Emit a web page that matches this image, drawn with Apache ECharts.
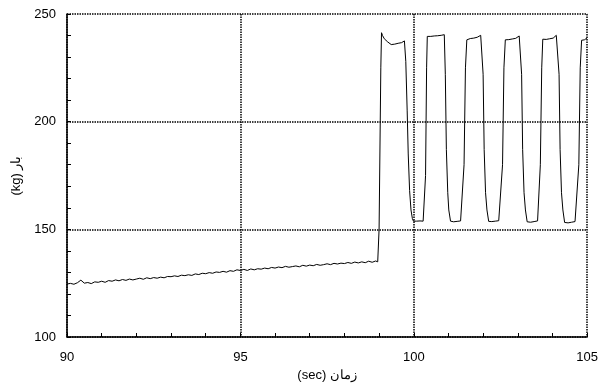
<!DOCTYPE html>
<html>
<head>
<meta charset="utf-8">
<script src="https://cdn.jsdelivr.net/npm/echarts@6/dist/echarts.min.js"></script>
<style>html,body{margin:0;padding:0;background:#fff}#c{width:601px;height:387px}</style>
</head>
<body>
<div id="c"></div>
<script>
// x-axis / y-axis ranges and tick labels
var xTicks = [90, 95, 100, 105];
var yTicks = [100, 150, 200, 250];
var xMinorStep = 1;
var yMinorStep = 10;
var xTitle = "(sec) زمان";
var yTitle = "(kg) بار";

// ramp section (time, load)
var rampT = [90.0,90.1,90.2,90.3,90.4,90.5,90.6,90.7,90.8,90.9,91.0,91.1,91.2,91.3,91.4,91.5,91.6,91.7,91.8,91.9,92.0,92.1,92.2,92.3,92.4,92.5,92.6,92.7,92.8,92.9,93.0,93.1,93.2,93.3,93.4,93.5,93.6,93.7,93.8,93.9,94.0,94.1,94.2,94.3,94.4,94.5,94.6,94.7,94.8,94.9,95.0,95.1,95.2,95.3,95.4,95.5,95.6,95.7,95.8,95.9,96.0,96.1,96.2,96.3,96.4,96.5,96.6,96.7,96.8,96.9,97.0,97.1,97.2,97.3,97.4,97.5,97.6,97.7,97.8,97.9,98.0,98.1,98.2,98.3,98.4,98.5,98.6,98.7,98.8,98.9,98.96];
var rampV = [124.6,124.9,124.5,125.2,126.4,125.0,125.3,124.8,125.6,125.4,125.9,125.4,126.2,125.9,126.5,126.1,126.7,126.3,126.9,126.5,126.9,127.3,126.8,127.5,127.1,127.6,127.3,127.8,127.5,128.1,128.0,128.4,128.1,128.7,128.5,128.9,128.6,129.3,129.0,129.6,129.4,129.9,129.6,130.2,130.0,130.5,130.1,130.8,130.5,131.2,130.9,131.4,130.9,131.6,131.2,131.7,131.5,132.0,131.7,132.3,132.0,132.5,132.2,132.8,132.4,132.7,133.0,132.6,133.3,132.9,133.4,133.1,133.7,133.3,133.6,134.0,133.6,134.2,133.9,134.3,134.1,134.6,134.2,134.8,134.4,134.9,134.5,135.2,134.7,135.3,134.9];

// oscillating section (time, load)
var pulseT = [99.0,99.05,99.07,99.1,99.15,99.2,99.25,99.3,99.35,99.4,99.45,99.5,99.55,99.6,99.65,99.7,99.73,
  99.77,99.81,99.84,99.88,99.92,99.96,99.99,
  100.03,100.08,100.13,100.18,100.22,100.27,100.31,
  100.34,100.37,100.39,
  100.44,100.49,100.54,100.59,100.64,100.69,100.74,100.79,100.84,100.88,
  100.91,100.94,100.98,101.01,101.06,
  101.1,101.15,101.2,101.25,101.3,101.35,101.39,
  101.45,101.49,101.53,
  101.58,101.63,101.68,101.73,101.78,101.83,101.88,101.93,101.96,
  102.0,102.03,102.07,102.11,102.16,
  102.2,102.25,102.3,102.35,102.4,102.45,102.5,
  102.56,102.6,102.64,
  102.69,102.74,102.79,102.84,102.89,102.94,102.99,103.04,103.07,
  103.11,103.14,103.18,103.22,103.27,
  103.32,103.37,103.42,103.47,103.52,103.57,103.61,
  103.65,103.69,103.72,
  103.77,103.82,103.87,103.92,103.97,104.02,104.07,104.11,104.15,
  104.19,104.22,104.26,104.3,104.35,
  104.4,104.45,104.5,104.55,104.6,104.65,104.7,
  104.76,104.8,104.84,
  104.88,104.92,104.96,105.0];
var pulseV = [150,225,241.3,240.0,238.5,237.6,237.0,236.4,235.8,236.3,236.0,236.6,236.4,236.9,236.7,237.2,237.5,
  228,205,185,168,159,155,153.8,
  153.2,153.8,153.3,153.9,153.4,153.8,154.2,
  175,225,239.6,
  239.2,239.6,239.3,239.8,239.5,239.9,239.6,240.1,240.0,240.4,
  222,187,167,159,153.8,
  153.0,153.5,153.1,153.7,153.3,153.9,154.4,
  180,225,238.0,
  238.1,238.6,238.3,238.8,238.6,239.2,239.0,240.1,240.8,
  222,187,167,159,153.7,
  153.1,153.6,153.2,153.8,153.4,154.0,154.5,
  180,225,238.0,
  238.3,238.1,238.6,238.4,238.9,238.7,239.4,239.8,240.3,
  222,187,167,159,153.5,
  152.8,153.3,153.0,153.6,153.3,153.9,154.7,
  180,225,238.3,
  238.4,238.2,238.7,238.5,238.9,238.8,239.6,240.1,240.6,
  222,187,167,159,153.2,
  152.4,153.0,152.7,153.3,153.0,153.6,154.3,
  180,225,237.8,
  238.2,238.0,238.6,238.9];

var data = [];
rampT.forEach(function(t, i){ data.push([t, rampV[i]]); });
pulseT.forEach(function(t, i){ data.push([t, pulseV[i]]); });

var font = "'Liberation Sans', Arial, sans-serif";
var xMin = xTicks[0], xMax = xTicks[xTicks.length-1];
var yMin = yTicks[0], yMax = yTicks[yTicks.length-1];

function tickAxis(min, max, step, pos) {
  return {
    type: 'value', min: min, max: max, interval: step, position: pos, offset: 0,
    axisLine: {show: false, onZero: false},
    axisTick: {show: true, inside: true, length: 4, lineStyle: {color: '#000', width: 1}},
    axisLabel: {show: false},
    splitLine: {show: false}
  };
}

var chart = echarts.init(document.getElementById('c'), null, {renderer: 'canvas'});
chart.setOption({
  animation: false,
  backgroundColor: '#fff',
  grid: {left: 67, right: 12, top: 14, bottom: 49, containLabel: false},
  xAxis: [{
    type: 'value', min: xMin, max: xMax, interval: 5, position: 'bottom',
    name: xTitle, nameLocation: 'middle', nameGap: 32,
    nameTextStyle: {color: '#000', fontSize: 13, fontFamily: font},
    axisLine: {show: true, onZero: false, lineStyle: {color: '#000', width: 1.5}},
    axisTick: {show: true, inside: true, length: 4, lineStyle: {color: '#000', width: 1}},
    axisLabel: {color: '#000', fontSize: 13, fontFamily: font, margin: 14},
    splitLine: {show: true, lineStyle: {color: '#000', width: 1.5, type: [1.5, 1]}}
  }, tickAxis(xMin, xMax, xMinorStep, 'bottom')],
  yAxis: [{
    type: 'value', min: yMin, max: yMax, interval: 50, position: 'left',
    name: yTitle, nameLocation: 'middle', nameGap: 40,
    nameTextStyle: {color: '#000', fontSize: 13, fontFamily: font},
    axisLine: {show: true, onZero: false, lineStyle: {color: '#000', width: 1.5}},
    axisTick: {show: true, inside: true, length: 4, lineStyle: {color: '#000', width: 1}},
    axisLabel: {color: '#000', fontSize: 13, fontFamily: font, margin: 11},
    splitLine: {show: true, lineStyle: {color: '#000', width: 1.5, type: [1.5, 1]}}
  }, tickAxis(yMin, yMax, yMinorStep, 'left')],
  series: [{
    type: 'line', data: data, showSymbol: false, symbol: 'none',
    xAxisIndex: 0, yAxisIndex: 0,
    lineStyle: {color: '#000', width: 1}, silent: true
  }]
});
</script>
</body>
</html>
